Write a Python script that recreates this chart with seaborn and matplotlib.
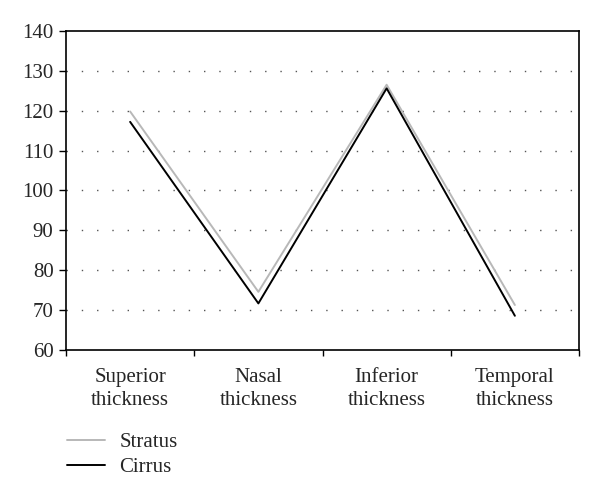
import matplotlib
matplotlib.use("Agg")
import matplotlib.pyplot as plt
from matplotlib.lines import Line2D
import numpy as np
import pandas as pd
import seaborn as sns

# data
categories = ["Superior\nthickness", "Nasal\nthickness", "Inferior\nthickness", "Temporal\nthickness"]
stratus = [119.8, 74.6, 126.5, 71.3]
cirrus = [117.2, 71.7, 125.6, 68.6]
y_ticks = [60, 70, 80, 90, 100, 110, 120, 130, 140]

df = pd.DataFrame({
    "region": categories * 2,
    "thickness": stratus + cirrus,
    "device": ["Stratus"] * 4 + ["Cirrus"] * 4,
})

sns.set_style("white")
plt.rcParams["font.family"] = ["Liberation Serif", "DejaVu Serif"]

fig = plt.figure(figsize=(6, 4.98), dpi=100)
ax = fig.add_axes([0.11, 0.297, 0.855, 0.641])

sns.lineplot(
    data=df, x="region", y="thickness", hue="device", sort=False,
    palette={"Stratus": "#b8b8b8", "Cirrus": "#000000"},
    linewidth=1.4, ax=ax, legend=False,
)

ax.set_ylim(60, 140)
ax.set_xlim(-0.5, len(categories) - 0.5)
ax.set_yticks(y_ticks)
ax.set_xticks(range(len(categories)))
ax.set_xticklabels(categories, fontsize=15, linespacing=1.3)
ax.set_xticks(np.arange(-0.5, len(categories), 1.0), minor=True)
ax.tick_params(axis="x", which="major", length=0, pad=13, bottom=False)
ax.tick_params(axis="x", which="minor", length=4, width=1, direction="out", color="black", bottom=True)
ax.tick_params(axis="y", length=5, width=1, direction="out", color="black", labelsize=15, left=True, pad=4)
ax.set_xlabel("")
ax.set_ylabel("")

for v in y_ticks[1:-1]:
    ax.axhline(v, color="#555555", linewidth=1.0, linestyle=(0, (1, 10)), zorder=0)

for s in ax.spines.values():
    s.set_color("black")
    s.set_linewidth(1.2)

handles = [
    Line2D([], [], color="#b8b8b8", linewidth=1.4),
    Line2D([], [], color="#000000", linewidth=1.4),
]
fig.legend(handles, ["Stratus", "Cirrus"], loc="upper left", bbox_to_anchor=(0.098, 0.148),
           frameon=False, fontsize=15, handlelength=1.8, handletextpad=0.7, labelspacing=0.25,
           borderaxespad=0)

fig.savefig("out.png", dpi=100)
